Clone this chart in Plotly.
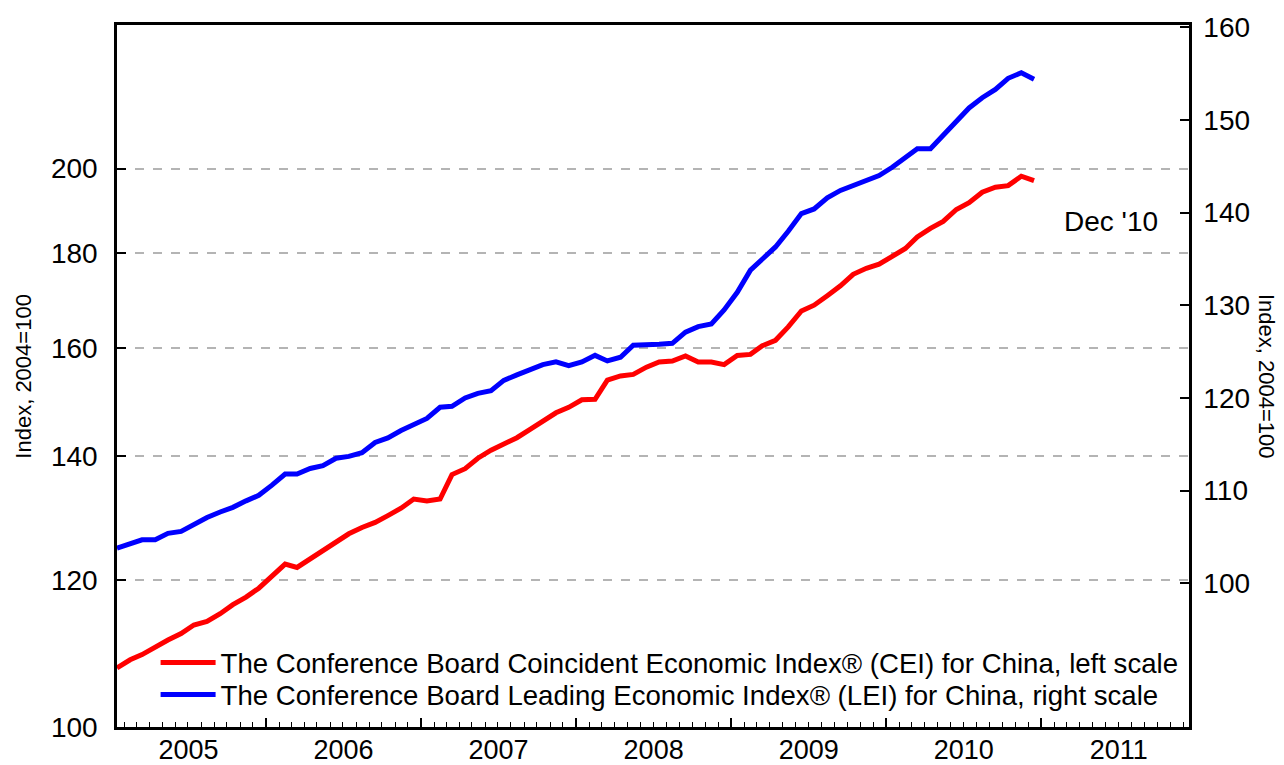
import pandas as pd
import plotly.graph_objects as go

# ---- data ----
start_month = "2005-01"
n_months = 72

cei_values = [
    107.6, 108.7, 109.4, 110.5, 111.4, 112.3, 113.5, 114.0, 115.1, 116.4, 117.5, 118.8,
    120.6, 122.4, 121.9, 123.2, 124.5, 126.0, 127.1, 128.1, 128.9, 130.0, 131.2, 132.7,
    132.4, 132.7, 136.8, 137.8, 139.6, 141.0, 142.0, 143.2, 144.7, 146.2, 147.7, 148.7,
    150.1, 150.2, 153.8, 154.6, 154.9, 156.3, 157.3, 157.5, 158.5, 157.3, 157.3, 156.8,
    158.6, 158.8, 160.5, 161.6, 164.3, 167.6, 168.8, 170.8, 172.9, 175.4, 176.7, 177.6,
    179.5, 181.1, 183.7, 185.7, 187.3, 190.1, 191.7, 194.2, 195.4, 195.8, 198.1, 197.0,
]

lei_values = [
    103.8, 104.3, 104.7, 104.7, 105.4, 105.6, 106.4, 107.1, 107.7, 108.2, 108.9, 109.5,
    110.6, 111.8, 111.8, 112.4, 112.7, 113.5, 113.7, 114.1, 115.2, 115.7, 116.5, 117.2,
    117.8, 119.0, 119.1, 120.0, 120.5, 120.8, 121.9, 122.5, 123.0, 123.6, 123.9, 123.5,
    123.9, 124.6, 124.0, 124.4, 125.7, 125.7, 125.8, 125.9, 127.1, 127.7, 128.0, 129.5,
    131.4, 133.8, 135.0, 136.3, 138.0, 139.9, 140.4, 141.6, 142.4, 142.9, 143.5, 144.0,
    144.9, 146.0, 146.9, 146.9, 148.4, 149.8, 151.3, 152.4, 153.3, 154.5, 155.1, 154.4,
]

left_ticks = [100, 120, 140, 160, 180, 200]
right_ticks = [100, 110, 120, 130, 140, 150, 160]

cei_name = "The Conference Board Coincident Economic Index® (CEI) for China, left scale"
lei_name = "The Conference Board Leading Economic Index® (LEI) for China, right scale"
axis_title = "Index, 2004=100"
end_label = "Dec '10"

dates = pd.date_range(start=start_month, periods=n_months, freq="MS") + pd.Timedelta(days=14)

FONT = "Liberation Sans, Arial, sans-serif"

fig = go.Figure()
fig.add_trace(go.Scatter(
    x=dates, y=cei_values, name=cei_name, mode="lines",
    line=dict(color="#FF0000", width=5), yaxis="y", legend="legend",
))
fig.add_trace(go.Scatter(
    x=dates, y=lei_values, name=lei_name, mode="lines",
    line=dict(color="#0000FF", width=5), yaxis="y2", legend="legend2",
))

fig.update_layout(
    width=1284, height=765,
    showlegend=True,
    margin=dict(l=117, r=95, t=25, b=38, autoexpand=False),
    paper_bgcolor="white", plot_bgcolor="white",
    font=dict(family=FONT, size=28, color="black"),
    xaxis=dict(
        type="date",
        range=["2005-01-15", "2011-12-15"],
        dtick="M12", tick0="2005-01-01",
        ticklabelmode="period", tickformat="%Y",
        ticks="inside", ticklen=9, tickwidth=1.5, tickcolor="black",
        minor=dict(dtick="M1", tick0="2005-01-01", ticks="inside", ticklen=5,
                   tickwidth=1, tickcolor="black", showgrid=False),
        showgrid=False, zeroline=False,
        showline=True, linecolor="black", linewidth=2.5, mirror=True,
        ticklabelstandoff=-3,
        tickfont=dict(size=27),
    ),
    yaxis=dict(
        type="log",
        range=[2.0, 2.3784],
        tickvals=left_ticks, ticktext=[str(v) for v in left_ticks],
        ticks="inside", ticklen=9, tickwidth=1.5, tickcolor="black",
        showgrid=True, gridcolor="#b4b4b4", gridwidth=1.5, griddash="dash",
        zeroline=False,
        showline=True, linecolor="black", linewidth=2.5,
        ticklabelstandoff=11,
        tickfont=dict(size=28),
    ),
    yaxis2=dict(
        overlaying="y", side="right",
        range=[84.5, 160.25],
        tickvals=right_ticks,
        ticks="inside", ticklen=9, tickwidth=1.5, tickcolor="black",
        showgrid=False, zeroline=False,
        showline=True, linecolor="black", linewidth=2.5,
        ticklabelstandoff=6,
        tickfont=dict(size=28),
    ),
    legend=dict(
        x=0.036, y=0.0918, xanchor="left", yanchor="middle",
        bgcolor="rgba(0,0,0,0)", borderwidth=0,
        font=dict(size=27.6, family=FONT), itemwidth=55,
    ),
    legend2=dict(
        x=0.036, y=0.0463, xanchor="left", yanchor="middle",
        bgcolor="rgba(0,0,0,0)", borderwidth=0,
        font=dict(size=27.6, family=FONT), itemwidth=55,
    ),
    annotations=[
        dict(text=end_label, xref="paper", yref="paper", x=0.973, y=0.7196,
             xanchor="right", yanchor="middle", showarrow=False,
             font=dict(size=28, family=FONT)),
        dict(text=axis_title, xref="paper", yref="paper", x=-0.088, y=0.5,
             xanchor="center", yanchor="middle", showarrow=False, textangle=-90,
             font=dict(size=22, family=FONT)),
        dict(text=axis_title, xref="paper", yref="paper", x=1.0728, y=0.5,
             xanchor="center", yanchor="middle", showarrow=False, textangle=90,
             font=dict(size=22, family=FONT)),
    ],
)

fig.write_html(
    "out.html",
    config={"displayModeBar": False},
    post_script="document.body.style.margin='0';document.body.style.overflow='hidden';",
)
